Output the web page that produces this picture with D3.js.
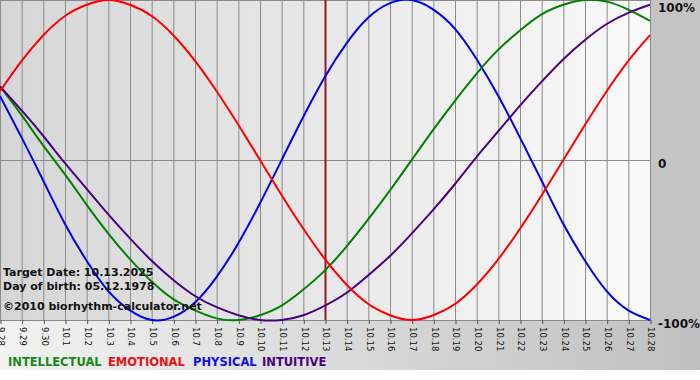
<!DOCTYPE html>
<html><head><meta charset="utf-8">
<script src="https://cdn.jsdelivr.net/npm/d3@7"></script>
<style>html,body{margin:0;padding:0;background:#fff;}svg{display:block;}</style>
</head><body>
<script>
const days = ["9.28","9.29","9.30","10.1","10.2","10.3","10.4","10.5","10.6","10.7","10.8","10.9","10.10","10.11","10.12","10.13","10.14","10.15","10.16","10.17","10.18","10.19","10.20","10.21","10.22","10.23","10.24","10.25","10.26","10.27","10.28"];
const intellectual = [46,28,9,-9,-28,-46,-62,-76,-87,-94,-99,-100,-97,-91,-81,-69,-54,-37,-19,0,19,37,54,69,81,91,97,100,99,94,87];
const emotional = [43,62,78,90,97,100,97,90,78,62,43,22,0,-22,-43,-62,-78,-90,-97,-100,-97,-90,-78,-62,-43,-22,0,22,43,62,78];
const physical = [40,14,-13,-40,-63,-82,-94,-100,-98,-89,-73,-52,-27,0,27,52,73,89,98,100,94,82,63,40,14,-13,-40,-63,-82,-94,-100];
const intuitive = [46,31,15,-2,-18,-34,-49,-63,-75,-85,-92,-97,-100,-100,-97,-91,-83,-72,-60,-46,-31,-15,2,18,34,49,63,75,85,92,97];
const yTicks = [100,0,-100];
const yTickLabels = ["100%","0","-100%"];
const targetDay = "10.13";
const infoLines = ["Target Date: 10.13.2025","Day of birth: 05.12.1978","\u00a92010 biorhythm-calculator.net"];
const legendNames = ["INTELLECTUAL","EMOTIONAL","PHYSICAL","INTUITIVE"];

const series = [
  {name:"INTELLECTUAL", values:intellectual, color:"#008000"},
  {name:"EMOTIONAL", values:emotional, color:"#ff0000"},
  {name:"PHYSICAL", values:physical, color:"#0000ee"},
  {name:"INTUITIVE", values:intuitive, color:"#4b0082"}
];
const legendColors = ["#138a13","#ee1111","#1111dd","#4b0082"];

const W=700,H=380, plotR=650, plotB=320;
const svg = d3.select("body").append("svg").attr("width",W).attr("height",H);
const defs = svg.append("defs");
const g1 = defs.append("linearGradient").attr("id","plotbg").attr("x1","0").attr("x2","1").attr("y1","0").attr("y2","0");
g1.append("stop").attr("offset","0").attr("stop-color","#d6d6d6");
g1.append("stop").attr("offset","1").attr("stop-color","#fafafa");
const g2 = defs.append("linearGradient").attr("id","botbg").attr("x1","0").attr("x2","1").attr("y1","0").attr("y2","0");
g2.append("stop").attr("offset","0").attr("stop-color","#f2f2f2");
g2.append("stop").attr("offset","1").attr("stop-color","#c0c0c0");

svg.append("rect").attr("x",0).attr("y",0).attr("width",W).attr("height",H).attr("fill","#ffffff");
svg.append("rect").attr("x",0).attr("y",plotB).attr("width",W).attr("height",50).attr("fill","url(#botbg)");
svg.append("rect").attr("x",plotR).attr("y",0).attr("width",W-plotR).attr("height",plotB+1).attr("fill","#c4c4c4");
svg.append("rect").attr("x",0).attr("y",0).attr("width",plotR).attr("height",plotB).attr("fill","url(#plotbg)");

const x = d3.scalePoint().domain(days).range([0,plotR]);
const y = d3.scaleLinear().domain([-100,100]).range([plotB,0]);

// vertical gridlines
svg.append("g").selectAll("line").data(days).join("line")
  .attr("x1",d=>x(d)+0.5).attr("x2",d=>x(d)+0.5).attr("y1",0).attr("y2",plotB)
  .attr("stroke","#8a8a8a").attr("stroke-width",1);
// horizontal lines
svg.append("g").selectAll("line").data(yTicks).join("line")
  .attr("x1",0).attr("x2",plotR+1).attr("y1",d=>Math.round(y(d))+0.5).attr("y2",d=>Math.round(y(d))+0.5)
  .attr("stroke","#8a8a8a").attr("stroke-width",1);

// x axis
const xAxis = d3.axisBottom(x).tickSize(4).tickPadding(3);
const ax = svg.append("g").attr("transform",`translate(0.5,${plotB})`).call(xAxis);
ax.select(".domain").remove();
ax.selectAll(".tick line").attr("stroke","#555");
ax.selectAll(".tick text")
  .attr("font-family","DejaVu Sans").attr("font-size","8.5px").attr("fill","#111")
  .attr("transform","rotate(90)").attr("text-anchor","start").attr("x",7).attr("y",0).attr("dy","0.32em");

// target line
svg.append("line").attr("x1",x(targetDay)+0.5).attr("x2",x(targetDay)+0.5).attr("y1",0).attr("y2",plotB)
  .attr("stroke","#8b1c1c").attr("stroke-width",2);

// curves
const line = d3.line().x((d,i)=>x(days[i])).y(d=>y(d)).curve(d3.curveNatural);
svg.append("g").selectAll("path").data([series[2],series[0],series[3],series[1]]).join("path")
  .attr("d",d=>line(d.values)).attr("fill","none").attr("stroke",d=>d.color).attr("stroke-width",2);

// right labels
const yAx = svg.append("g").attr("transform",`translate(${plotR},0)`).call(d3.axisRight(y).tickValues(yTicks).tickSize(0).tickPadding(8).tickFormat((d,i)=>yTickLabels[i]));
yAx.select(".domain").remove();
yAx.selectAll("text").attr("font-family","DejaVu Sans").attr("font-weight","bold").attr("font-size","12px").attr("fill","#111").attr("dy","0.6em");
yAx.selectAll(".tick").filter(d=>d===100).select("text").attr("dy","0.95em");

// info text
svg.append("g").selectAll("text").data(infoLines).join("text")
  .attr("x",3).attr("y",(d,i)=>[276,290,310][i])
  .attr("font-family","DejaVu Sans").attr("font-weight","bold").attr("font-size","11px").attr("fill","#111")
  .text(d=>d);

// legend
const legX=[8,108,193,262];
svg.append("g").selectAll("text").data(legendNames).join("text")
  .attr("x",(d,i)=>legX[i]).attr("y",366)
  .attr("font-family","DejaVu Sans").attr("font-weight","bold").attr("font-size","11.5px")
  .attr("fill",(d,i)=>legendColors[i]).text(d=>d);
</script>
</body></html>
